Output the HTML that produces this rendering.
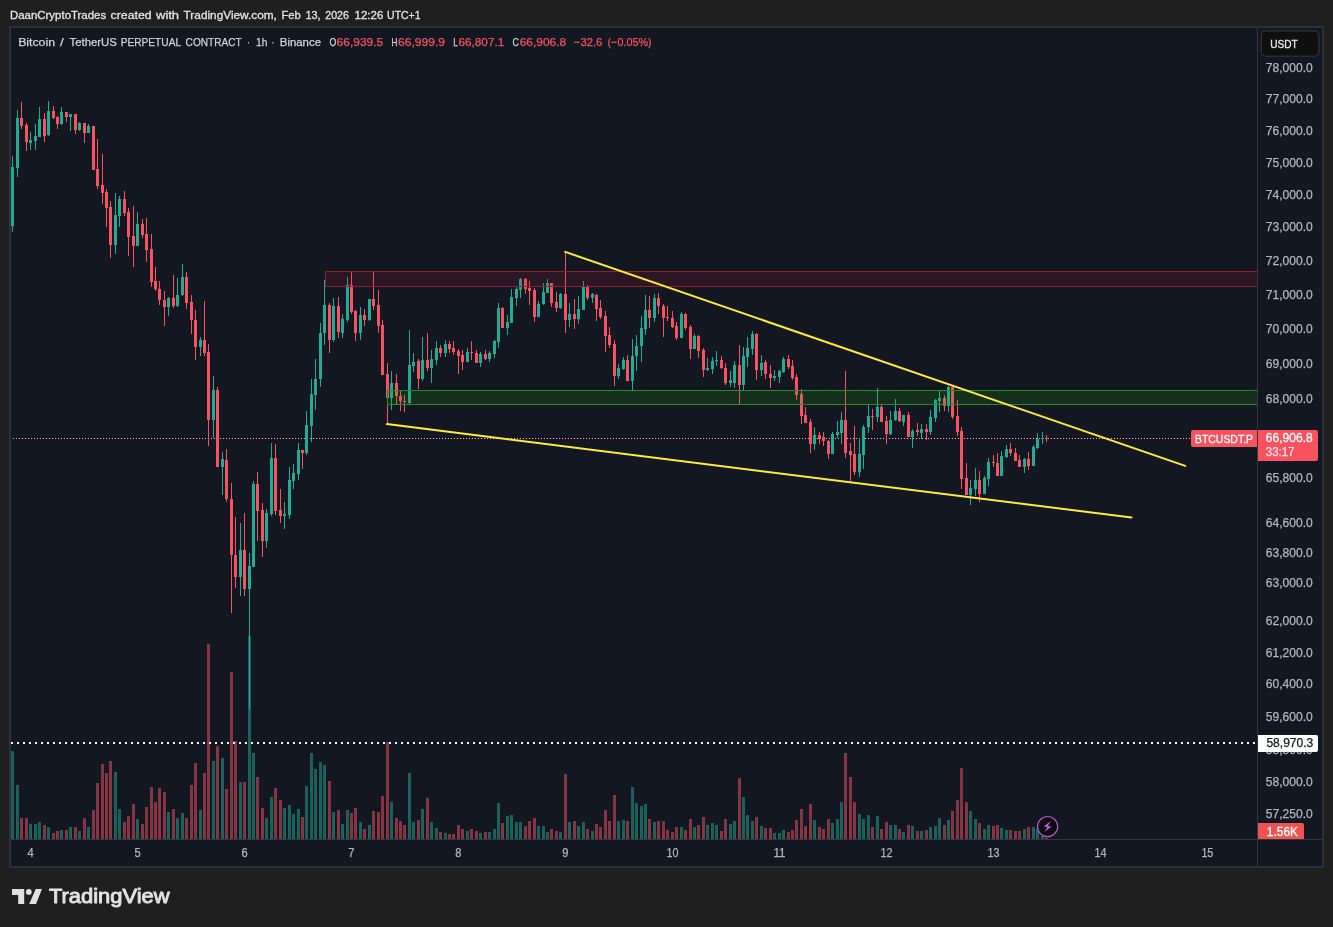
<!DOCTYPE html>
<html><head><meta charset="utf-8"><title>chart</title>
<style>
html,body{margin:0;padding:0;}
body{width:1333px;height:927px;background:#1f1f1f;overflow:hidden;position:relative;font-family:"Liberation Sans",sans-serif;font-size:12px;}
#frame{position:absolute;left:9px;top:26px;width:1311px;height:838px;border:2px solid #2e3037;background:#131722;}
#chart{position:absolute;left:0;top:0;width:1333px;height:927px;will-change:transform;font-family:"Liberation Sans",sans-serif;}
text{white-space:pre;}
</style></head><body>
<div id="frame"></div>
<svg id="chart" width="1333" height="927" viewBox="0 0 1333 927">
<defs><clipPath id="pane"><rect x="11" y="28" width="1246" height="811"/></clipPath></defs>
<g shape-rendering="crispEdges">
<rect x="11" y="751" width="3" height="88" fill="rgba(34,171,148,0.5)"/>
<rect x="16" y="785" width="3" height="54" fill="rgba(34,171,148,0.5)"/>
<rect x="20" y="818" width="3" height="21" fill="rgba(247,82,95,0.5)"/>
<rect x="25" y="818" width="3" height="21" fill="rgba(247,82,95,0.5)"/>
<rect x="29" y="824" width="3" height="15" fill="rgba(34,171,148,0.5)"/>
<rect x="34" y="824" width="3" height="15" fill="rgba(34,171,148,0.5)"/>
<rect x="38" y="822" width="3" height="17" fill="rgba(34,171,148,0.5)"/>
<rect x="43" y="825" width="3" height="14" fill="rgba(247,82,95,0.5)"/>
<rect x="47" y="827" width="3" height="12" fill="rgba(34,171,148,0.5)"/>
<rect x="52" y="833" width="3" height="6" fill="rgba(247,82,95,0.5)"/>
<rect x="56" y="831" width="3" height="8" fill="rgba(247,82,95,0.5)"/>
<rect x="60" y="830" width="3" height="9" fill="rgba(34,171,148,0.5)"/>
<rect x="65" y="830" width="3" height="9" fill="rgba(247,82,95,0.5)"/>
<rect x="69" y="827" width="3" height="12" fill="rgba(34,171,148,0.5)"/>
<rect x="74" y="827" width="3" height="12" fill="rgba(247,82,95,0.5)"/>
<rect x="78" y="831" width="3" height="8" fill="rgba(34,171,148,0.5)"/>
<rect x="83" y="818" width="3" height="21" fill="rgba(247,82,95,0.5)"/>
<rect x="87" y="827" width="3" height="12" fill="rgba(34,171,148,0.5)"/>
<rect x="92" y="810" width="3" height="29" fill="rgba(247,82,95,0.5)"/>
<rect x="96" y="783" width="3" height="56" fill="rgba(247,82,95,0.5)"/>
<rect x="101" y="764" width="3" height="75" fill="rgba(247,82,95,0.5)"/>
<rect x="105" y="773" width="3" height="66" fill="rgba(247,82,95,0.5)"/>
<rect x="109" y="761" width="3" height="78" fill="rgba(247,82,95,0.5)"/>
<rect x="114" y="772" width="3" height="67" fill="rgba(34,171,148,0.5)"/>
<rect x="118" y="809" width="3" height="30" fill="rgba(34,171,148,0.5)"/>
<rect x="123" y="822" width="3" height="17" fill="rgba(247,82,95,0.5)"/>
<rect x="127" y="816" width="3" height="23" fill="rgba(247,82,95,0.5)"/>
<rect x="132" y="804" width="3" height="35" fill="rgba(247,82,95,0.5)"/>
<rect x="136" y="819" width="3" height="20" fill="rgba(34,171,148,0.5)"/>
<rect x="141" y="824" width="3" height="15" fill="rgba(247,82,95,0.5)"/>
<rect x="145" y="807" width="3" height="32" fill="rgba(247,82,95,0.5)"/>
<rect x="150" y="787" width="3" height="52" fill="rgba(247,82,95,0.5)"/>
<rect x="154" y="802" width="3" height="37" fill="rgba(247,82,95,0.5)"/>
<rect x="158" y="788" width="3" height="51" fill="rgba(247,82,95,0.5)"/>
<rect x="163" y="792" width="3" height="47" fill="rgba(247,82,95,0.5)"/>
<rect x="167" y="812" width="3" height="27" fill="rgba(34,171,148,0.5)"/>
<rect x="172" y="809" width="3" height="30" fill="rgba(247,82,95,0.5)"/>
<rect x="176" y="818" width="3" height="21" fill="rgba(34,171,148,0.5)"/>
<rect x="181" y="813" width="3" height="26" fill="rgba(34,171,148,0.5)"/>
<rect x="185" y="818" width="3" height="21" fill="rgba(247,82,95,0.5)"/>
<rect x="190" y="785" width="3" height="54" fill="rgba(247,82,95,0.5)"/>
<rect x="194" y="763" width="3" height="76" fill="rgba(247,82,95,0.5)"/>
<rect x="199" y="810" width="3" height="29" fill="rgba(34,171,148,0.5)"/>
<rect x="203" y="773" width="3" height="66" fill="rgba(247,82,95,0.5)"/>
<rect x="207" y="644" width="3" height="195" fill="rgba(247,82,95,0.5)"/>
<rect x="212" y="761" width="3" height="78" fill="rgba(34,171,148,0.5)"/>
<rect x="216" y="746" width="3" height="93" fill="rgba(247,82,95,0.5)"/>
<rect x="221" y="758" width="3" height="81" fill="rgba(34,171,148,0.5)"/>
<rect x="225" y="789" width="3" height="50" fill="rgba(247,82,95,0.5)"/>
<rect x="230" y="672" width="3" height="167" fill="rgba(247,82,95,0.5)"/>
<rect x="234" y="741" width="3" height="98" fill="rgba(247,82,95,0.5)"/>
<rect x="239" y="782" width="3" height="57" fill="rgba(34,171,148,0.5)"/>
<rect x="243" y="782" width="3" height="57" fill="rgba(247,82,95,0.5)"/>
<rect x="248" y="636" width="3" height="203" fill="rgba(34,171,148,0.5)"/>
<rect x="252" y="753" width="3" height="86" fill="rgba(34,171,148,0.5)"/>
<rect x="256" y="777" width="3" height="62" fill="rgba(247,82,95,0.5)"/>
<rect x="261" y="808" width="3" height="31" fill="rgba(247,82,95,0.5)"/>
<rect x="265" y="818" width="3" height="21" fill="rgba(34,171,148,0.5)"/>
<rect x="270" y="797" width="3" height="42" fill="rgba(34,171,148,0.5)"/>
<rect x="274" y="788" width="3" height="51" fill="rgba(247,82,95,0.5)"/>
<rect x="279" y="800" width="3" height="39" fill="rgba(247,82,95,0.5)"/>
<rect x="283" y="808" width="3" height="31" fill="rgba(34,171,148,0.5)"/>
<rect x="288" y="805" width="3" height="34" fill="rgba(34,171,148,0.5)"/>
<rect x="292" y="814" width="3" height="25" fill="rgba(34,171,148,0.5)"/>
<rect x="297" y="809" width="3" height="30" fill="rgba(34,171,148,0.5)"/>
<rect x="301" y="817" width="3" height="22" fill="rgba(247,82,95,0.5)"/>
<rect x="305" y="786" width="3" height="53" fill="rgba(34,171,148,0.5)"/>
<rect x="310" y="753" width="3" height="86" fill="rgba(34,171,148,0.5)"/>
<rect x="314" y="769" width="3" height="70" fill="rgba(34,171,148,0.5)"/>
<rect x="319" y="762" width="3" height="77" fill="rgba(34,171,148,0.5)"/>
<rect x="323" y="765" width="3" height="74" fill="rgba(34,171,148,0.5)"/>
<rect x="328" y="781" width="3" height="58" fill="rgba(247,82,95,0.5)"/>
<rect x="332" y="812" width="3" height="27" fill="rgba(34,171,148,0.5)"/>
<rect x="337" y="810" width="3" height="29" fill="rgba(247,82,95,0.5)"/>
<rect x="341" y="824" width="3" height="15" fill="rgba(34,171,148,0.5)"/>
<rect x="346" y="810" width="3" height="29" fill="rgba(34,171,148,0.5)"/>
<rect x="350" y="813" width="3" height="26" fill="rgba(247,82,95,0.5)"/>
<rect x="354" y="808" width="3" height="31" fill="rgba(247,82,95,0.5)"/>
<rect x="359" y="822" width="3" height="17" fill="rgba(34,171,148,0.5)"/>
<rect x="363" y="829" width="3" height="10" fill="rgba(247,82,95,0.5)"/>
<rect x="368" y="825" width="3" height="14" fill="rgba(34,171,148,0.5)"/>
<rect x="372" y="811" width="3" height="28" fill="rgba(247,82,95,0.5)"/>
<rect x="377" y="812" width="3" height="27" fill="rgba(247,82,95,0.5)"/>
<rect x="381" y="796" width="3" height="43" fill="rgba(247,82,95,0.5)"/>
<rect x="386" y="742" width="3" height="97" fill="rgba(247,82,95,0.5)"/>
<rect x="390" y="802" width="3" height="37" fill="rgba(34,171,148,0.5)"/>
<rect x="395" y="818" width="3" height="21" fill="rgba(247,82,95,0.5)"/>
<rect x="399" y="821" width="3" height="18" fill="rgba(247,82,95,0.5)"/>
<rect x="403" y="825" width="3" height="14" fill="rgba(247,82,95,0.5)"/>
<rect x="408" y="773" width="3" height="66" fill="rgba(34,171,148,0.5)"/>
<rect x="412" y="822" width="3" height="17" fill="rgba(34,171,148,0.5)"/>
<rect x="417" y="820" width="3" height="19" fill="rgba(247,82,95,0.5)"/>
<rect x="421" y="809" width="3" height="30" fill="rgba(34,171,148,0.5)"/>
<rect x="426" y="798" width="3" height="41" fill="rgba(247,82,95,0.5)"/>
<rect x="430" y="822" width="3" height="17" fill="rgba(34,171,148,0.5)"/>
<rect x="435" y="828" width="3" height="11" fill="rgba(34,171,148,0.5)"/>
<rect x="439" y="832" width="3" height="7" fill="rgba(247,82,95,0.5)"/>
<rect x="444" y="833" width="3" height="6" fill="rgba(34,171,148,0.5)"/>
<rect x="448" y="834" width="3" height="5" fill="rgba(247,82,95,0.5)"/>
<rect x="452" y="834" width="3" height="5" fill="rgba(247,82,95,0.5)"/>
<rect x="457" y="825" width="3" height="14" fill="rgba(247,82,95,0.5)"/>
<rect x="461" y="829" width="3" height="10" fill="rgba(247,82,95,0.5)"/>
<rect x="466" y="831" width="3" height="8" fill="rgba(34,171,148,0.5)"/>
<rect x="470" y="829" width="3" height="10" fill="rgba(247,82,95,0.5)"/>
<rect x="475" y="831" width="3" height="8" fill="rgba(247,82,95,0.5)"/>
<rect x="479" y="833" width="3" height="6" fill="rgba(34,171,148,0.5)"/>
<rect x="484" y="832" width="3" height="7" fill="rgba(247,82,95,0.5)"/>
<rect x="488" y="832" width="3" height="7" fill="rgba(34,171,148,0.5)"/>
<rect x="493" y="829" width="3" height="10" fill="rgba(34,171,148,0.5)"/>
<rect x="497" y="803" width="3" height="36" fill="rgba(34,171,148,0.5)"/>
<rect x="501" y="823" width="3" height="16" fill="rgba(247,82,95,0.5)"/>
<rect x="506" y="816" width="3" height="23" fill="rgba(34,171,148,0.5)"/>
<rect x="510" y="815" width="3" height="24" fill="rgba(34,171,148,0.5)"/>
<rect x="515" y="822" width="3" height="17" fill="rgba(34,171,148,0.5)"/>
<rect x="519" y="822" width="3" height="17" fill="rgba(34,171,148,0.5)"/>
<rect x="524" y="826" width="3" height="13" fill="rgba(247,82,95,0.5)"/>
<rect x="528" y="821" width="3" height="18" fill="rgba(247,82,95,0.5)"/>
<rect x="533" y="818" width="3" height="21" fill="rgba(247,82,95,0.5)"/>
<rect x="537" y="826" width="3" height="13" fill="rgba(34,171,148,0.5)"/>
<rect x="542" y="826" width="3" height="13" fill="rgba(34,171,148,0.5)"/>
<rect x="546" y="832" width="3" height="7" fill="rgba(34,171,148,0.5)"/>
<rect x="550" y="829" width="3" height="10" fill="rgba(247,82,95,0.5)"/>
<rect x="555" y="831" width="3" height="8" fill="rgba(247,82,95,0.5)"/>
<rect x="559" y="832" width="3" height="7" fill="rgba(34,171,148,0.5)"/>
<rect x="564" y="774" width="3" height="65" fill="rgba(247,82,95,0.5)"/>
<rect x="568" y="822" width="3" height="17" fill="rgba(34,171,148,0.5)"/>
<rect x="573" y="821" width="3" height="18" fill="rgba(247,82,95,0.5)"/>
<rect x="577" y="826" width="3" height="13" fill="rgba(34,171,148,0.5)"/>
<rect x="582" y="822" width="3" height="17" fill="rgba(34,171,148,0.5)"/>
<rect x="586" y="829" width="3" height="10" fill="rgba(247,82,95,0.5)"/>
<rect x="591" y="831" width="3" height="8" fill="rgba(34,171,148,0.5)"/>
<rect x="595" y="824" width="3" height="15" fill="rgba(247,82,95,0.5)"/>
<rect x="599" y="827" width="3" height="12" fill="rgba(247,82,95,0.5)"/>
<rect x="604" y="810" width="3" height="29" fill="rgba(247,82,95,0.5)"/>
<rect x="608" y="821" width="3" height="18" fill="rgba(247,82,95,0.5)"/>
<rect x="613" y="795" width="3" height="44" fill="rgba(247,82,95,0.5)"/>
<rect x="617" y="821" width="3" height="18" fill="rgba(34,171,148,0.5)"/>
<rect x="622" y="820" width="3" height="19" fill="rgba(34,171,148,0.5)"/>
<rect x="626" y="821" width="3" height="18" fill="rgba(247,82,95,0.5)"/>
<rect x="631" y="787" width="3" height="52" fill="rgba(34,171,148,0.5)"/>
<rect x="635" y="803" width="3" height="36" fill="rgba(34,171,148,0.5)"/>
<rect x="640" y="806" width="3" height="33" fill="rgba(34,171,148,0.5)"/>
<rect x="644" y="804" width="3" height="35" fill="rgba(34,171,148,0.5)"/>
<rect x="648" y="819" width="3" height="20" fill="rgba(247,82,95,0.5)"/>
<rect x="653" y="822" width="3" height="17" fill="rgba(34,171,148,0.5)"/>
<rect x="657" y="821" width="3" height="18" fill="rgba(247,82,95,0.5)"/>
<rect x="662" y="821" width="3" height="18" fill="rgba(247,82,95,0.5)"/>
<rect x="666" y="830" width="3" height="9" fill="rgba(247,82,95,0.5)"/>
<rect x="671" y="832" width="3" height="7" fill="rgba(247,82,95,0.5)"/>
<rect x="675" y="827" width="3" height="12" fill="rgba(247,82,95,0.5)"/>
<rect x="680" y="827" width="3" height="12" fill="rgba(34,171,148,0.5)"/>
<rect x="684" y="830" width="3" height="9" fill="rgba(247,82,95,0.5)"/>
<rect x="689" y="819" width="3" height="20" fill="rgba(247,82,95,0.5)"/>
<rect x="693" y="827" width="3" height="12" fill="rgba(34,171,148,0.5)"/>
<rect x="697" y="825" width="3" height="14" fill="rgba(247,82,95,0.5)"/>
<rect x="702" y="817" width="3" height="22" fill="rgba(247,82,95,0.5)"/>
<rect x="706" y="825" width="3" height="14" fill="rgba(34,171,148,0.5)"/>
<rect x="711" y="823" width="3" height="16" fill="rgba(34,171,148,0.5)"/>
<rect x="715" y="825" width="3" height="14" fill="rgba(34,171,148,0.5)"/>
<rect x="720" y="831" width="3" height="8" fill="rgba(247,82,95,0.5)"/>
<rect x="724" y="819" width="3" height="20" fill="rgba(247,82,95,0.5)"/>
<rect x="729" y="824" width="3" height="15" fill="rgba(34,171,148,0.5)"/>
<rect x="733" y="821" width="3" height="18" fill="rgba(34,171,148,0.5)"/>
<rect x="738" y="778" width="3" height="61" fill="rgba(247,82,95,0.5)"/>
<rect x="742" y="797" width="3" height="42" fill="rgba(34,171,148,0.5)"/>
<rect x="746" y="815" width="3" height="24" fill="rgba(34,171,148,0.5)"/>
<rect x="751" y="821" width="3" height="18" fill="rgba(34,171,148,0.5)"/>
<rect x="755" y="817" width="3" height="22" fill="rgba(247,82,95,0.5)"/>
<rect x="760" y="826" width="3" height="13" fill="rgba(34,171,148,0.5)"/>
<rect x="764" y="828" width="3" height="11" fill="rgba(247,82,95,0.5)"/>
<rect x="769" y="828" width="3" height="11" fill="rgba(247,82,95,0.5)"/>
<rect x="773" y="833" width="3" height="6" fill="rgba(34,171,148,0.5)"/>
<rect x="778" y="833" width="3" height="6" fill="rgba(34,171,148,0.5)"/>
<rect x="782" y="830" width="3" height="9" fill="rgba(34,171,148,0.5)"/>
<rect x="787" y="832" width="3" height="7" fill="rgba(247,82,95,0.5)"/>
<rect x="791" y="830" width="3" height="9" fill="rgba(247,82,95,0.5)"/>
<rect x="795" y="820" width="3" height="19" fill="rgba(247,82,95,0.5)"/>
<rect x="800" y="809" width="3" height="30" fill="rgba(247,82,95,0.5)"/>
<rect x="804" y="826" width="3" height="13" fill="rgba(247,82,95,0.5)"/>
<rect x="809" y="804" width="3" height="35" fill="rgba(247,82,95,0.5)"/>
<rect x="813" y="820" width="3" height="19" fill="rgba(34,171,148,0.5)"/>
<rect x="818" y="827" width="3" height="12" fill="rgba(247,82,95,0.5)"/>
<rect x="822" y="829" width="3" height="10" fill="rgba(247,82,95,0.5)"/>
<rect x="827" y="819" width="3" height="20" fill="rgba(247,82,95,0.5)"/>
<rect x="831" y="823" width="3" height="16" fill="rgba(34,171,148,0.5)"/>
<rect x="836" y="819" width="3" height="20" fill="rgba(34,171,148,0.5)"/>
<rect x="840" y="802" width="3" height="37" fill="rgba(34,171,148,0.5)"/>
<rect x="844" y="753" width="3" height="86" fill="rgba(247,82,95,0.5)"/>
<rect x="849" y="777" width="3" height="62" fill="rgba(247,82,95,0.5)"/>
<rect x="853" y="802" width="3" height="37" fill="rgba(247,82,95,0.5)"/>
<rect x="858" y="814" width="3" height="25" fill="rgba(34,171,148,0.5)"/>
<rect x="862" y="819" width="3" height="20" fill="rgba(34,171,148,0.5)"/>
<rect x="867" y="815" width="3" height="24" fill="rgba(34,171,148,0.5)"/>
<rect x="871" y="827" width="3" height="12" fill="rgba(247,82,95,0.5)"/>
<rect x="876" y="816" width="3" height="23" fill="rgba(34,171,148,0.5)"/>
<rect x="880" y="829" width="3" height="10" fill="rgba(247,82,95,0.5)"/>
<rect x="885" y="822" width="3" height="17" fill="rgba(247,82,95,0.5)"/>
<rect x="889" y="825" width="3" height="14" fill="rgba(34,171,148,0.5)"/>
<rect x="894" y="825" width="3" height="14" fill="rgba(34,171,148,0.5)"/>
<rect x="898" y="829" width="3" height="10" fill="rgba(247,82,95,0.5)"/>
<rect x="902" y="832" width="3" height="7" fill="rgba(34,171,148,0.5)"/>
<rect x="907" y="825" width="3" height="14" fill="rgba(247,82,95,0.5)"/>
<rect x="911" y="826" width="3" height="13" fill="rgba(34,171,148,0.5)"/>
<rect x="916" y="831" width="3" height="8" fill="rgba(247,82,95,0.5)"/>
<rect x="920" y="831" width="3" height="8" fill="rgba(34,171,148,0.5)"/>
<rect x="925" y="830" width="3" height="9" fill="rgba(247,82,95,0.5)"/>
<rect x="929" y="827" width="3" height="12" fill="rgba(34,171,148,0.5)"/>
<rect x="934" y="826" width="3" height="13" fill="rgba(34,171,148,0.5)"/>
<rect x="938" y="818" width="3" height="21" fill="rgba(34,171,148,0.5)"/>
<rect x="943" y="825" width="3" height="14" fill="rgba(247,82,95,0.5)"/>
<rect x="947" y="820" width="3" height="19" fill="rgba(34,171,148,0.5)"/>
<rect x="951" y="811" width="3" height="28" fill="rgba(247,82,95,0.5)"/>
<rect x="956" y="800" width="3" height="39" fill="rgba(247,82,95,0.5)"/>
<rect x="960" y="768" width="3" height="71" fill="rgba(247,82,95,0.5)"/>
<rect x="965" y="802" width="3" height="37" fill="rgba(247,82,95,0.5)"/>
<rect x="969" y="811" width="3" height="28" fill="rgba(34,171,148,0.5)"/>
<rect x="974" y="819" width="3" height="20" fill="rgba(34,171,148,0.5)"/>
<rect x="978" y="823" width="3" height="16" fill="rgba(247,82,95,0.5)"/>
<rect x="983" y="829" width="3" height="10" fill="rgba(34,171,148,0.5)"/>
<rect x="987" y="825" width="3" height="14" fill="rgba(34,171,148,0.5)"/>
<rect x="992" y="826" width="3" height="13" fill="rgba(247,82,95,0.5)"/>
<rect x="996" y="825" width="3" height="14" fill="rgba(247,82,95,0.5)"/>
<rect x="1000" y="828" width="3" height="11" fill="rgba(34,171,148,0.5)"/>
<rect x="1005" y="830" width="3" height="9" fill="rgba(34,171,148,0.5)"/>
<rect x="1009" y="830" width="3" height="9" fill="rgba(247,82,95,0.5)"/>
<rect x="1014" y="831" width="3" height="8" fill="rgba(247,82,95,0.5)"/>
<rect x="1018" y="831" width="3" height="8" fill="rgba(247,82,95,0.5)"/>
<rect x="1023" y="829" width="3" height="10" fill="rgba(34,171,148,0.5)"/>
<rect x="1027" y="827" width="3" height="12" fill="rgba(247,82,95,0.5)"/>
<rect x="1032" y="827" width="3" height="12" fill="rgba(34,171,148,0.5)"/>
<rect x="1036" y="829" width="3" height="10" fill="rgba(34,171,148,0.5)"/>
<rect x="1041" y="836" width="3" height="3" fill="rgba(34,171,148,0.5)"/>
<rect x="1045" y="838" width="3" height="1" fill="rgba(247,82,95,0.5)"/>
</g>
<line x1="11" y1="438.5" x2="1191" y2="438.5" stroke="rgba(120,10,45,0.4)" stroke-width="1"/><line x1="13" y1="438.5" x2="1191" y2="438.5" stroke="#e6b6c2" stroke-width="1" stroke-dasharray="1 2"/>
<g shape-rendering="crispEdges">
<rect x="12" y="156" width="1" height="76" fill="#22ab94"/><rect x="11" y="167" width="3" height="59" fill="#22ab94"/>
<rect x="17" y="110" width="1" height="67" fill="#22ab94"/><rect x="16" y="118" width="3" height="50" fill="#22ab94"/>
<rect x="21" y="102" width="1" height="27" fill="#f7525f"/><rect x="20" y="118" width="3" height="8" fill="#f7525f"/>
<rect x="26" y="123" width="1" height="28" fill="#f7525f"/><rect x="25" y="125" width="3" height="17" fill="#f7525f"/>
<rect x="30" y="132" width="1" height="18" fill="#22ab94"/><rect x="29" y="140" width="3" height="3" fill="#22ab94"/>
<rect x="35" y="124" width="1" height="26" fill="#22ab94"/><rect x="34" y="136" width="3" height="5" fill="#22ab94"/>
<rect x="39" y="107" width="1" height="30" fill="#22ab94"/><rect x="38" y="119" width="3" height="18" fill="#22ab94"/>
<rect x="44" y="113" width="1" height="29" fill="#f7525f"/><rect x="43" y="119" width="3" height="17" fill="#f7525f"/>
<rect x="48" y="101" width="1" height="35" fill="#22ab94"/><rect x="47" y="111" width="3" height="24" fill="#22ab94"/>
<rect x="53" y="106" width="1" height="13" fill="#f7525f"/><rect x="52" y="111" width="3" height="7" fill="#f7525f"/>
<rect x="57" y="116" width="1" height="13" fill="#f7525f"/><rect x="56" y="117" width="3" height="7" fill="#f7525f"/>
<rect x="61" y="107" width="1" height="18" fill="#22ab94"/><rect x="60" y="112" width="3" height="12" fill="#22ab94"/>
<rect x="66" y="112" width="1" height="10" fill="#f7525f"/><rect x="65" y="112" width="3" height="5" fill="#f7525f"/>
<rect x="70" y="114" width="1" height="17" fill="#22ab94"/><rect x="69" y="114" width="3" height="3" fill="#22ab94"/>
<rect x="75" y="114" width="1" height="20" fill="#f7525f"/><rect x="74" y="114" width="3" height="16" fill="#f7525f"/>
<rect x="79" y="122" width="1" height="9" fill="#22ab94"/><rect x="78" y="123" width="3" height="7" fill="#22ab94"/>
<rect x="84" y="123" width="1" height="20" fill="#f7525f"/><rect x="83" y="123" width="3" height="10" fill="#f7525f"/>
<rect x="88" y="124" width="1" height="9" fill="#22ab94"/><rect x="87" y="126" width="3" height="7" fill="#22ab94"/>
<rect x="93" y="126" width="1" height="44" fill="#f7525f"/><rect x="92" y="126" width="3" height="44" fill="#f7525f"/>
<rect x="97" y="139" width="1" height="50" fill="#f7525f"/><rect x="96" y="169" width="3" height="17" fill="#f7525f"/>
<rect x="102" y="154" width="1" height="50" fill="#f7525f"/><rect x="101" y="185" width="3" height="8" fill="#f7525f"/>
<rect x="106" y="189" width="1" height="38" fill="#f7525f"/><rect x="105" y="192" width="3" height="16" fill="#f7525f"/>
<rect x="110" y="201" width="1" height="57" fill="#f7525f"/><rect x="109" y="207" width="3" height="38" fill="#f7525f"/>
<rect x="115" y="193" width="1" height="61" fill="#22ab94"/><rect x="114" y="215" width="3" height="30" fill="#22ab94"/>
<rect x="119" y="196" width="1" height="31" fill="#22ab94"/><rect x="118" y="199" width="3" height="17" fill="#22ab94"/>
<rect x="124" y="191" width="1" height="25" fill="#f7525f"/><rect x="123" y="199" width="3" height="14" fill="#f7525f"/>
<rect x="128" y="208" width="1" height="48" fill="#f7525f"/><rect x="127" y="212" width="3" height="25" fill="#f7525f"/>
<rect x="133" y="206" width="1" height="61" fill="#f7525f"/><rect x="132" y="236" width="3" height="10" fill="#f7525f"/>
<rect x="137" y="212" width="1" height="34" fill="#22ab94"/><rect x="136" y="224" width="3" height="22" fill="#22ab94"/>
<rect x="142" y="219" width="1" height="19" fill="#f7525f"/><rect x="141" y="224" width="3" height="11" fill="#f7525f"/>
<rect x="146" y="218" width="1" height="44" fill="#f7525f"/><rect x="145" y="234" width="3" height="16" fill="#f7525f"/>
<rect x="151" y="234" width="1" height="53" fill="#f7525f"/><rect x="150" y="249" width="3" height="33" fill="#f7525f"/>
<rect x="155" y="267" width="1" height="24" fill="#f7525f"/><rect x="154" y="281" width="3" height="8" fill="#f7525f"/>
<rect x="159" y="281" width="1" height="24" fill="#f7525f"/><rect x="158" y="289" width="3" height="11" fill="#f7525f"/>
<rect x="164" y="291" width="1" height="35" fill="#f7525f"/><rect x="163" y="300" width="3" height="7" fill="#f7525f"/>
<rect x="168" y="297" width="1" height="19" fill="#22ab94"/><rect x="167" y="298" width="3" height="9" fill="#22ab94"/>
<rect x="173" y="275" width="1" height="33" fill="#f7525f"/><rect x="172" y="298" width="3" height="8" fill="#f7525f"/>
<rect x="177" y="278" width="1" height="29" fill="#22ab94"/><rect x="176" y="295" width="3" height="11" fill="#22ab94"/>
<rect x="182" y="264" width="1" height="32" fill="#22ab94"/><rect x="181" y="277" width="3" height="18" fill="#22ab94"/>
<rect x="186" y="272" width="1" height="37" fill="#f7525f"/><rect x="185" y="277" width="3" height="26" fill="#f7525f"/>
<rect x="191" y="295" width="1" height="39" fill="#f7525f"/><rect x="190" y="302" width="3" height="18" fill="#f7525f"/>
<rect x="195" y="310" width="1" height="50" fill="#f7525f"/><rect x="194" y="320" width="3" height="27" fill="#f7525f"/>
<rect x="200" y="337" width="1" height="19" fill="#22ab94"/><rect x="199" y="340" width="3" height="7" fill="#22ab94"/>
<rect x="204" y="301" width="1" height="55" fill="#f7525f"/><rect x="203" y="340" width="3" height="13" fill="#f7525f"/>
<rect x="208" y="344" width="1" height="102" fill="#f7525f"/><rect x="207" y="352" width="3" height="68" fill="#f7525f"/>
<rect x="213" y="376" width="1" height="62" fill="#22ab94"/><rect x="212" y="390" width="3" height="30" fill="#22ab94"/>
<rect x="217" y="387" width="1" height="80" fill="#f7525f"/><rect x="216" y="390" width="3" height="77" fill="#f7525f"/>
<rect x="222" y="452" width="1" height="43" fill="#22ab94"/><rect x="221" y="459" width="3" height="8" fill="#22ab94"/>
<rect x="226" y="449" width="1" height="53" fill="#f7525f"/><rect x="225" y="460" width="3" height="39" fill="#f7525f"/>
<rect x="231" y="483" width="1" height="130" fill="#f7525f"/><rect x="230" y="499" width="3" height="56" fill="#f7525f"/>
<rect x="235" y="517" width="1" height="71" fill="#f7525f"/><rect x="234" y="555" width="3" height="22" fill="#f7525f"/>
<rect x="240" y="523" width="1" height="73" fill="#22ab94"/><rect x="239" y="550" width="3" height="27" fill="#22ab94"/>
<rect x="244" y="513" width="1" height="83" fill="#f7525f"/><rect x="243" y="550" width="3" height="39" fill="#f7525f"/>
<rect x="249" y="553" width="1" height="156" fill="#22ab94"/><rect x="248" y="566" width="3" height="23" fill="#22ab94"/>
<rect x="253" y="481" width="1" height="86" fill="#22ab94"/><rect x="252" y="484" width="3" height="83" fill="#22ab94"/>
<rect x="257" y="472" width="1" height="69" fill="#f7525f"/><rect x="256" y="484" width="3" height="27" fill="#f7525f"/>
<rect x="262" y="503" width="1" height="54" fill="#f7525f"/><rect x="261" y="510" width="3" height="31" fill="#f7525f"/>
<rect x="266" y="509" width="1" height="39" fill="#22ab94"/><rect x="265" y="513" width="3" height="28" fill="#22ab94"/>
<rect x="271" y="443" width="1" height="73" fill="#22ab94"/><rect x="270" y="458" width="3" height="56" fill="#22ab94"/>
<rect x="275" y="444" width="1" height="71" fill="#f7525f"/><rect x="274" y="458" width="3" height="53" fill="#f7525f"/>
<rect x="280" y="489" width="1" height="34" fill="#f7525f"/><rect x="279" y="510" width="3" height="6" fill="#f7525f"/>
<rect x="284" y="502" width="1" height="27" fill="#22ab94"/><rect x="283" y="514" width="3" height="2" fill="#22ab94"/>
<rect x="289" y="467" width="1" height="52" fill="#22ab94"/><rect x="288" y="480" width="3" height="35" fill="#22ab94"/>
<rect x="293" y="464" width="1" height="25" fill="#22ab94"/><rect x="292" y="473" width="3" height="8" fill="#22ab94"/>
<rect x="298" y="443" width="1" height="37" fill="#22ab94"/><rect x="297" y="450" width="3" height="24" fill="#22ab94"/>
<rect x="302" y="450" width="1" height="19" fill="#f7525f"/><rect x="301" y="450" width="3" height="3" fill="#f7525f"/>
<rect x="306" y="411" width="1" height="44" fill="#22ab94"/><rect x="305" y="425" width="3" height="28" fill="#22ab94"/>
<rect x="311" y="379" width="1" height="63" fill="#22ab94"/><rect x="310" y="394" width="3" height="32" fill="#22ab94"/>
<rect x="315" y="359" width="1" height="51" fill="#22ab94"/><rect x="314" y="379" width="3" height="16" fill="#22ab94"/>
<rect x="320" y="323" width="1" height="64" fill="#22ab94"/><rect x="319" y="333" width="3" height="46" fill="#22ab94"/>
<rect x="324" y="280" width="1" height="65" fill="#22ab94"/><rect x="323" y="305" width="3" height="28" fill="#22ab94"/>
<rect x="329" y="303" width="1" height="50" fill="#f7525f"/><rect x="328" y="305" width="3" height="35" fill="#f7525f"/>
<rect x="333" y="298" width="1" height="44" fill="#22ab94"/><rect x="332" y="306" width="3" height="34" fill="#22ab94"/>
<rect x="338" y="297" width="1" height="41" fill="#f7525f"/><rect x="337" y="306" width="3" height="26" fill="#f7525f"/>
<rect x="342" y="314" width="1" height="24" fill="#22ab94"/><rect x="341" y="319" width="3" height="14" fill="#22ab94"/>
<rect x="347" y="277" width="1" height="45" fill="#22ab94"/><rect x="346" y="285" width="3" height="35" fill="#22ab94"/>
<rect x="351" y="271" width="1" height="43" fill="#f7525f"/><rect x="350" y="285" width="3" height="27" fill="#f7525f"/>
<rect x="355" y="310" width="1" height="31" fill="#f7525f"/><rect x="354" y="311" width="3" height="22" fill="#f7525f"/>
<rect x="360" y="307" width="1" height="33" fill="#22ab94"/><rect x="359" y="315" width="3" height="18" fill="#22ab94"/>
<rect x="364" y="309" width="1" height="17" fill="#f7525f"/><rect x="363" y="315" width="3" height="5" fill="#f7525f"/>
<rect x="369" y="299" width="1" height="22" fill="#22ab94"/><rect x="368" y="299" width="3" height="21" fill="#22ab94"/>
<rect x="373" y="272" width="1" height="38" fill="#f7525f"/><rect x="372" y="299" width="3" height="7" fill="#f7525f"/>
<rect x="378" y="290" width="1" height="43" fill="#f7525f"/><rect x="377" y="305" width="3" height="21" fill="#f7525f"/>
<rect x="382" y="320" width="1" height="55" fill="#f7525f"/><rect x="381" y="325" width="3" height="50" fill="#f7525f"/>
<rect x="387" y="363" width="1" height="61" fill="#f7525f"/><rect x="386" y="374" width="3" height="24" fill="#f7525f"/>
<rect x="391" y="371" width="1" height="39" fill="#22ab94"/><rect x="390" y="383" width="3" height="15" fill="#22ab94"/>
<rect x="396" y="374" width="1" height="31" fill="#f7525f"/><rect x="395" y="383" width="3" height="13" fill="#f7525f"/>
<rect x="400" y="390" width="1" height="21" fill="#f7525f"/><rect x="399" y="396" width="3" height="5" fill="#f7525f"/>
<rect x="404" y="395" width="1" height="17" fill="#f7525f"/><rect x="403" y="401" width="3" height="1" fill="#f7525f"/>
<rect x="409" y="330" width="1" height="74" fill="#22ab94"/><rect x="408" y="365" width="3" height="38" fill="#22ab94"/>
<rect x="413" y="353" width="1" height="19" fill="#22ab94"/><rect x="412" y="362" width="3" height="4" fill="#22ab94"/>
<rect x="418" y="359" width="1" height="30" fill="#f7525f"/><rect x="417" y="361" width="3" height="18" fill="#f7525f"/>
<rect x="422" y="337" width="1" height="44" fill="#22ab94"/><rect x="421" y="360" width="3" height="19" fill="#22ab94"/>
<rect x="427" y="333" width="1" height="38" fill="#f7525f"/><rect x="426" y="360" width="3" height="8" fill="#f7525f"/>
<rect x="431" y="350" width="1" height="33" fill="#22ab94"/><rect x="430" y="359" width="3" height="9" fill="#22ab94"/>
<rect x="436" y="341" width="1" height="24" fill="#22ab94"/><rect x="435" y="348" width="3" height="12" fill="#22ab94"/>
<rect x="440" y="345" width="1" height="12" fill="#f7525f"/><rect x="439" y="348" width="3" height="5" fill="#f7525f"/>
<rect x="445" y="340" width="1" height="17" fill="#22ab94"/><rect x="444" y="344" width="3" height="9" fill="#22ab94"/>
<rect x="449" y="341" width="1" height="12" fill="#f7525f"/><rect x="448" y="344" width="3" height="5" fill="#f7525f"/>
<rect x="453" y="341" width="1" height="14" fill="#f7525f"/><rect x="452" y="348" width="3" height="4" fill="#f7525f"/>
<rect x="458" y="349" width="1" height="25" fill="#f7525f"/><rect x="457" y="351" width="3" height="5" fill="#f7525f"/>
<rect x="462" y="350" width="1" height="20" fill="#f7525f"/><rect x="461" y="355" width="3" height="7" fill="#f7525f"/>
<rect x="467" y="348" width="1" height="14" fill="#22ab94"/><rect x="466" y="352" width="3" height="10" fill="#22ab94"/>
<rect x="471" y="341" width="1" height="19" fill="#f7525f"/><rect x="470" y="352" width="3" height="1" fill="#f7525f"/>
<rect x="476" y="350" width="1" height="13" fill="#f7525f"/><rect x="475" y="353" width="3" height="10" fill="#f7525f"/>
<rect x="480" y="352" width="1" height="15" fill="#22ab94"/><rect x="479" y="354" width="3" height="9" fill="#22ab94"/>
<rect x="485" y="350" width="1" height="10" fill="#f7525f"/><rect x="484" y="354" width="3" height="5" fill="#f7525f"/>
<rect x="489" y="351" width="1" height="11" fill="#22ab94"/><rect x="488" y="353" width="3" height="6" fill="#22ab94"/>
<rect x="494" y="340" width="1" height="18" fill="#22ab94"/><rect x="493" y="341" width="3" height="13" fill="#22ab94"/>
<rect x="498" y="303" width="1" height="45" fill="#22ab94"/><rect x="497" y="308" width="3" height="34" fill="#22ab94"/>
<rect x="502" y="307" width="1" height="21" fill="#f7525f"/><rect x="501" y="308" width="3" height="20" fill="#f7525f"/>
<rect x="507" y="315" width="1" height="20" fill="#22ab94"/><rect x="506" y="322" width="3" height="6" fill="#22ab94"/>
<rect x="511" y="289" width="1" height="34" fill="#22ab94"/><rect x="510" y="297" width="3" height="26" fill="#22ab94"/>
<rect x="516" y="286" width="1" height="20" fill="#22ab94"/><rect x="515" y="289" width="3" height="9" fill="#22ab94"/>
<rect x="520" y="278" width="1" height="20" fill="#22ab94"/><rect x="519" y="279" width="3" height="11" fill="#22ab94"/>
<rect x="525" y="278" width="1" height="16" fill="#f7525f"/><rect x="524" y="279" width="3" height="10" fill="#f7525f"/>
<rect x="529" y="281" width="1" height="24" fill="#f7525f"/><rect x="528" y="288" width="3" height="3" fill="#f7525f"/>
<rect x="534" y="288" width="1" height="34" fill="#f7525f"/><rect x="533" y="290" width="3" height="27" fill="#f7525f"/>
<rect x="538" y="301" width="1" height="16" fill="#22ab94"/><rect x="537" y="304" width="3" height="13" fill="#22ab94"/>
<rect x="543" y="283" width="1" height="22" fill="#22ab94"/><rect x="542" y="292" width="3" height="12" fill="#22ab94"/>
<rect x="547" y="279" width="1" height="14" fill="#22ab94"/><rect x="546" y="283" width="3" height="10" fill="#22ab94"/>
<rect x="551" y="283" width="1" height="24" fill="#f7525f"/><rect x="550" y="283" width="3" height="20" fill="#f7525f"/>
<rect x="556" y="292" width="1" height="20" fill="#f7525f"/><rect x="555" y="302" width="3" height="6" fill="#f7525f"/>
<rect x="560" y="293" width="1" height="16" fill="#22ab94"/><rect x="559" y="294" width="3" height="14" fill="#22ab94"/>
<rect x="565" y="252" width="1" height="81" fill="#f7525f"/><rect x="564" y="294" width="3" height="26" fill="#f7525f"/>
<rect x="569" y="303" width="1" height="24" fill="#22ab94"/><rect x="568" y="314" width="3" height="6" fill="#22ab94"/>
<rect x="574" y="299" width="1" height="30" fill="#f7525f"/><rect x="573" y="314" width="3" height="5" fill="#f7525f"/>
<rect x="578" y="296" width="1" height="28" fill="#22ab94"/><rect x="577" y="309" width="3" height="10" fill="#22ab94"/>
<rect x="583" y="281" width="1" height="29" fill="#22ab94"/><rect x="582" y="286" width="3" height="24" fill="#22ab94"/>
<rect x="587" y="285" width="1" height="15" fill="#f7525f"/><rect x="586" y="286" width="3" height="12" fill="#f7525f"/>
<rect x="592" y="293" width="1" height="10" fill="#22ab94"/><rect x="591" y="294" width="3" height="4" fill="#22ab94"/>
<rect x="596" y="294" width="1" height="27" fill="#f7525f"/><rect x="595" y="295" width="3" height="14" fill="#f7525f"/>
<rect x="600" y="300" width="1" height="19" fill="#f7525f"/><rect x="599" y="308" width="3" height="9" fill="#f7525f"/>
<rect x="605" y="311" width="1" height="41" fill="#f7525f"/><rect x="604" y="316" width="3" height="20" fill="#f7525f"/>
<rect x="609" y="327" width="1" height="21" fill="#f7525f"/><rect x="608" y="335" width="3" height="10" fill="#f7525f"/>
<rect x="614" y="340" width="1" height="46" fill="#f7525f"/><rect x="613" y="344" width="3" height="32" fill="#f7525f"/>
<rect x="618" y="364" width="1" height="15" fill="#22ab94"/><rect x="617" y="368" width="3" height="8" fill="#22ab94"/>
<rect x="623" y="357" width="1" height="13" fill="#22ab94"/><rect x="622" y="360" width="3" height="9" fill="#22ab94"/>
<rect x="627" y="355" width="1" height="26" fill="#f7525f"/><rect x="626" y="360" width="3" height="21" fill="#f7525f"/>
<rect x="632" y="339" width="1" height="51" fill="#22ab94"/><rect x="631" y="356" width="3" height="25" fill="#22ab94"/>
<rect x="636" y="335" width="1" height="36" fill="#22ab94"/><rect x="635" y="346" width="3" height="10" fill="#22ab94"/>
<rect x="641" y="316" width="1" height="46" fill="#22ab94"/><rect x="640" y="328" width="3" height="18" fill="#22ab94"/>
<rect x="645" y="295" width="1" height="40" fill="#22ab94"/><rect x="644" y="310" width="3" height="19" fill="#22ab94"/>
<rect x="649" y="296" width="1" height="32" fill="#f7525f"/><rect x="648" y="310" width="3" height="8" fill="#f7525f"/>
<rect x="654" y="294" width="1" height="28" fill="#22ab94"/><rect x="653" y="298" width="3" height="20" fill="#22ab94"/>
<rect x="658" y="293" width="1" height="21" fill="#f7525f"/><rect x="657" y="298" width="3" height="8" fill="#f7525f"/>
<rect x="663" y="304" width="1" height="33" fill="#f7525f"/><rect x="662" y="306" width="3" height="12" fill="#f7525f"/>
<rect x="667" y="306" width="1" height="15" fill="#f7525f"/><rect x="666" y="317" width="3" height="1" fill="#f7525f"/>
<rect x="672" y="311" width="1" height="17" fill="#f7525f"/><rect x="671" y="318" width="3" height="9" fill="#f7525f"/>
<rect x="676" y="322" width="1" height="18" fill="#f7525f"/><rect x="675" y="326" width="3" height="12" fill="#f7525f"/>
<rect x="681" y="312" width="1" height="26" fill="#22ab94"/><rect x="680" y="314" width="3" height="24" fill="#22ab94"/>
<rect x="685" y="313" width="1" height="17" fill="#f7525f"/><rect x="684" y="314" width="3" height="14" fill="#f7525f"/>
<rect x="690" y="325" width="1" height="34" fill="#f7525f"/><rect x="689" y="327" width="3" height="22" fill="#f7525f"/>
<rect x="694" y="334" width="1" height="15" fill="#22ab94"/><rect x="693" y="336" width="3" height="13" fill="#22ab94"/>
<rect x="698" y="335" width="1" height="23" fill="#f7525f"/><rect x="697" y="336" width="3" height="15" fill="#f7525f"/>
<rect x="703" y="348" width="1" height="29" fill="#f7525f"/><rect x="702" y="350" width="3" height="20" fill="#f7525f"/>
<rect x="707" y="358" width="1" height="13" fill="#22ab94"/><rect x="706" y="368" width="3" height="2" fill="#22ab94"/>
<rect x="712" y="357" width="1" height="17" fill="#22ab94"/><rect x="711" y="361" width="3" height="8" fill="#22ab94"/>
<rect x="716" y="351" width="1" height="15" fill="#22ab94"/><rect x="715" y="360" width="3" height="1" fill="#22ab94"/>
<rect x="721" y="356" width="1" height="13" fill="#f7525f"/><rect x="720" y="360" width="3" height="8" fill="#f7525f"/>
<rect x="725" y="363" width="1" height="22" fill="#f7525f"/><rect x="724" y="368" width="3" height="15" fill="#f7525f"/>
<rect x="730" y="371" width="1" height="16" fill="#22ab94"/><rect x="729" y="380" width="3" height="3" fill="#22ab94"/>
<rect x="734" y="361" width="1" height="27" fill="#22ab94"/><rect x="733" y="365" width="3" height="18" fill="#22ab94"/>
<rect x="739" y="345" width="1" height="59" fill="#f7525f"/><rect x="738" y="365" width="3" height="20" fill="#f7525f"/>
<rect x="743" y="347" width="1" height="43" fill="#22ab94"/><rect x="742" y="356" width="3" height="29" fill="#22ab94"/>
<rect x="747" y="337" width="1" height="30" fill="#22ab94"/><rect x="746" y="348" width="3" height="9" fill="#22ab94"/>
<rect x="752" y="331" width="1" height="24" fill="#22ab94"/><rect x="751" y="334" width="3" height="15" fill="#22ab94"/>
<rect x="756" y="333" width="1" height="47" fill="#f7525f"/><rect x="755" y="334" width="3" height="36" fill="#f7525f"/>
<rect x="761" y="355" width="1" height="21" fill="#22ab94"/><rect x="760" y="363" width="3" height="7" fill="#22ab94"/>
<rect x="765" y="360" width="1" height="19" fill="#f7525f"/><rect x="764" y="362" width="3" height="12" fill="#f7525f"/>
<rect x="770" y="365" width="1" height="23" fill="#f7525f"/><rect x="769" y="374" width="3" height="4" fill="#f7525f"/>
<rect x="774" y="370" width="1" height="11" fill="#22ab94"/><rect x="773" y="376" width="3" height="2" fill="#22ab94"/>
<rect x="779" y="370" width="1" height="13" fill="#22ab94"/><rect x="778" y="371" width="3" height="6" fill="#22ab94"/>
<rect x="783" y="357" width="1" height="16" fill="#22ab94"/><rect x="782" y="359" width="3" height="13" fill="#22ab94"/>
<rect x="788" y="355" width="1" height="14" fill="#f7525f"/><rect x="787" y="359" width="3" height="8" fill="#f7525f"/>
<rect x="792" y="360" width="1" height="20" fill="#f7525f"/><rect x="791" y="366" width="3" height="12" fill="#f7525f"/>
<rect x="796" y="374" width="1" height="26" fill="#f7525f"/><rect x="795" y="377" width="3" height="18" fill="#f7525f"/>
<rect x="801" y="389" width="1" height="35" fill="#f7525f"/><rect x="800" y="394" width="3" height="22" fill="#f7525f"/>
<rect x="805" y="407" width="1" height="16" fill="#f7525f"/><rect x="804" y="415" width="3" height="8" fill="#f7525f"/>
<rect x="810" y="419" width="1" height="34" fill="#f7525f"/><rect x="809" y="422" width="3" height="22" fill="#f7525f"/>
<rect x="814" y="427" width="1" height="23" fill="#22ab94"/><rect x="813" y="435" width="3" height="9" fill="#22ab94"/>
<rect x="819" y="432" width="1" height="12" fill="#f7525f"/><rect x="818" y="435" width="3" height="4" fill="#f7525f"/>
<rect x="823" y="432" width="1" height="14" fill="#f7525f"/><rect x="822" y="437" width="3" height="4" fill="#f7525f"/>
<rect x="828" y="440" width="1" height="19" fill="#f7525f"/><rect x="827" y="441" width="3" height="13" fill="#f7525f"/>
<rect x="832" y="432" width="1" height="22" fill="#22ab94"/><rect x="831" y="434" width="3" height="20" fill="#22ab94"/>
<rect x="837" y="421" width="1" height="17" fill="#22ab94"/><rect x="836" y="432" width="3" height="3" fill="#22ab94"/>
<rect x="841" y="412" width="1" height="32" fill="#22ab94"/><rect x="840" y="420" width="3" height="13" fill="#22ab94"/>
<rect x="845" y="371" width="1" height="87" fill="#f7525f"/><rect x="844" y="420" width="3" height="33" fill="#f7525f"/>
<rect x="850" y="443" width="1" height="38" fill="#f7525f"/><rect x="849" y="451" width="3" height="4" fill="#f7525f"/>
<rect x="854" y="426" width="1" height="49" fill="#f7525f"/><rect x="853" y="454" width="3" height="18" fill="#f7525f"/>
<rect x="859" y="438" width="1" height="39" fill="#22ab94"/><rect x="858" y="454" width="3" height="18" fill="#22ab94"/>
<rect x="863" y="425" width="1" height="44" fill="#22ab94"/><rect x="862" y="427" width="3" height="28" fill="#22ab94"/>
<rect x="868" y="405" width="1" height="28" fill="#22ab94"/><rect x="867" y="416" width="3" height="11" fill="#22ab94"/>
<rect x="872" y="409" width="1" height="21" fill="#f7525f"/><rect x="871" y="416" width="3" height="1" fill="#f7525f"/>
<rect x="877" y="388" width="1" height="34" fill="#22ab94"/><rect x="876" y="407" width="3" height="10" fill="#22ab94"/>
<rect x="881" y="405" width="1" height="17" fill="#f7525f"/><rect x="880" y="407" width="3" height="15" fill="#f7525f"/>
<rect x="886" y="416" width="1" height="28" fill="#f7525f"/><rect x="885" y="421" width="3" height="13" fill="#f7525f"/>
<rect x="890" y="411" width="1" height="24" fill="#22ab94"/><rect x="889" y="420" width="3" height="14" fill="#22ab94"/>
<rect x="895" y="399" width="1" height="22" fill="#22ab94"/><rect x="894" y="411" width="3" height="9" fill="#22ab94"/>
<rect x="899" y="408" width="1" height="14" fill="#f7525f"/><rect x="898" y="411" width="3" height="10" fill="#f7525f"/>
<rect x="903" y="415" width="1" height="11" fill="#22ab94"/><rect x="902" y="415" width="3" height="7" fill="#22ab94"/>
<rect x="908" y="412" width="1" height="25" fill="#f7525f"/><rect x="907" y="415" width="3" height="22" fill="#f7525f"/>
<rect x="912" y="429" width="1" height="19" fill="#22ab94"/><rect x="911" y="431" width="3" height="6" fill="#22ab94"/>
<rect x="917" y="423" width="1" height="13" fill="#f7525f"/><rect x="916" y="430" width="3" height="2" fill="#f7525f"/>
<rect x="921" y="424" width="1" height="15" fill="#22ab94"/><rect x="920" y="429" width="3" height="4" fill="#22ab94"/>
<rect x="926" y="424" width="1" height="16" fill="#f7525f"/><rect x="925" y="429" width="3" height="3" fill="#f7525f"/>
<rect x="930" y="410" width="1" height="25" fill="#22ab94"/><rect x="929" y="417" width="3" height="15" fill="#22ab94"/>
<rect x="935" y="399" width="1" height="23" fill="#22ab94"/><rect x="934" y="400" width="3" height="18" fill="#22ab94"/>
<rect x="939" y="390" width="1" height="22" fill="#22ab94"/><rect x="938" y="398" width="3" height="3" fill="#22ab94"/>
<rect x="944" y="395" width="1" height="16" fill="#f7525f"/><rect x="943" y="398" width="3" height="8" fill="#f7525f"/>
<rect x="948" y="386" width="1" height="26" fill="#22ab94"/><rect x="947" y="387" width="3" height="19" fill="#22ab94"/>
<rect x="952" y="386" width="1" height="33" fill="#f7525f"/><rect x="951" y="387" width="3" height="30" fill="#f7525f"/>
<rect x="957" y="400" width="1" height="36" fill="#f7525f"/><rect x="956" y="416" width="3" height="16" fill="#f7525f"/>
<rect x="961" y="427" width="1" height="62" fill="#f7525f"/><rect x="960" y="431" width="3" height="48" fill="#f7525f"/>
<rect x="966" y="463" width="1" height="32" fill="#f7525f"/><rect x="965" y="478" width="3" height="17" fill="#f7525f"/>
<rect x="970" y="480" width="1" height="25" fill="#22ab94"/><rect x="969" y="488" width="3" height="7" fill="#22ab94"/>
<rect x="975" y="468" width="1" height="28" fill="#22ab94"/><rect x="974" y="480" width="3" height="9" fill="#22ab94"/>
<rect x="979" y="471" width="1" height="31" fill="#f7525f"/><rect x="978" y="480" width="3" height="14" fill="#f7525f"/>
<rect x="984" y="476" width="1" height="18" fill="#22ab94"/><rect x="983" y="478" width="3" height="16" fill="#22ab94"/>
<rect x="988" y="458" width="1" height="28" fill="#22ab94"/><rect x="987" y="462" width="3" height="17" fill="#22ab94"/>
<rect x="993" y="455" width="1" height="12" fill="#f7525f"/><rect x="992" y="462" width="3" height="1" fill="#f7525f"/>
<rect x="997" y="453" width="1" height="23" fill="#f7525f"/><rect x="996" y="463" width="3" height="13" fill="#f7525f"/>
<rect x="1001" y="451" width="1" height="25" fill="#22ab94"/><rect x="1000" y="456" width="3" height="20" fill="#22ab94"/>
<rect x="1006" y="445" width="1" height="13" fill="#22ab94"/><rect x="1005" y="449" width="3" height="8" fill="#22ab94"/>
<rect x="1010" y="443" width="1" height="13" fill="#f7525f"/><rect x="1009" y="449" width="3" height="4" fill="#f7525f"/>
<rect x="1015" y="448" width="1" height="13" fill="#f7525f"/><rect x="1014" y="453" width="3" height="8" fill="#f7525f"/>
<rect x="1019" y="455" width="1" height="12" fill="#f7525f"/><rect x="1018" y="460" width="3" height="7" fill="#f7525f"/>
<rect x="1024" y="458" width="1" height="15" fill="#22ab94"/><rect x="1023" y="459" width="3" height="8" fill="#22ab94"/>
<rect x="1028" y="452" width="1" height="18" fill="#f7525f"/><rect x="1027" y="459" width="3" height="7" fill="#f7525f"/>
<rect x="1033" y="445" width="1" height="21" fill="#22ab94"/><rect x="1032" y="447" width="3" height="19" fill="#22ab94"/>
<rect x="1037" y="433" width="1" height="16" fill="#22ab94"/><rect x="1036" y="439" width="3" height="9" fill="#22ab94"/>
<rect x="1042" y="432" width="1" height="12" fill="#22ab94"/><rect x="1041" y="438" width="3" height="1" fill="#22ab94"/>
<rect x="1046" y="435" width="1" height="7" fill="#f7525f"/><rect x="1045" y="438" width="3" height="1" fill="#f7525f"/>
</g>
<g clip-path="url(#pane)"><rect x="325.5" y="271.5" width="960" height="15" fill="rgba(200,20,50,0.14)" stroke="#8c2231" stroke-width="1"/>
<rect x="387.5" y="390.5" width="900" height="14" fill="rgba(30,190,0,0.15)" stroke="#208c30" stroke-width="1"/></g>
<line x1="565.2" y1="251.9" x2="1185.2" y2="465.9" stroke="#ffeb3b" stroke-width="2" stroke-linecap="round"/>
<line x1="386.9" y1="424.1" x2="1131.5" y2="517.5" stroke="#ffeb3b" stroke-width="2" stroke-linecap="round"/>
<line x1="11" y1="743" x2="1257" y2="743" stroke="#ffffff" stroke-width="2" stroke-dasharray="2 4"/>
<circle cx="1047.6" cy="826.6" r="10.1" fill="#0c0d10" stroke="#b653cc" stroke-width="1.2"/>
<path d="M1050.9 820.9 L1043.6 826.6 L1047.4 827 L1044.3 832 L1051.5 826.4 L1047.8 826 Z" fill="#c45cdb"/>
<!-- axes separators -->
<rect x="1257" y="28" width="1" height="838" fill="#33363f"/>
<rect x="11" y="839" width="1311" height="1" fill="#33363f"/>
<text x="1265.8" y="72.2" font-size="12" fill="#b2b5be" textLength="46.9" lengthAdjust="spacingAndGlyphs" stroke="#b2b5be" stroke-width="0.25">78,000.0</text>
<text x="1265.8" y="103.2" font-size="12" fill="#b2b5be" textLength="46.9" lengthAdjust="spacingAndGlyphs" stroke="#b2b5be" stroke-width="0.25">77,000.0</text>
<text x="1265.8" y="134.9" font-size="12" fill="#b2b5be" textLength="46.9" lengthAdjust="spacingAndGlyphs" stroke="#b2b5be" stroke-width="0.25">76,000.0</text>
<text x="1265.8" y="166.7" font-size="12" fill="#b2b5be" textLength="46.9" lengthAdjust="spacingAndGlyphs" stroke="#b2b5be" stroke-width="0.25">75,000.0</text>
<text x="1265.8" y="198.6" font-size="12" fill="#b2b5be" textLength="46.9" lengthAdjust="spacingAndGlyphs" stroke="#b2b5be" stroke-width="0.25">74,000.0</text>
<text x="1265.8" y="231.4" font-size="12" fill="#b2b5be" textLength="46.9" lengthAdjust="spacingAndGlyphs" stroke="#b2b5be" stroke-width="0.25">73,000.0</text>
<text x="1265.8" y="264.8" font-size="12" fill="#b2b5be" textLength="46.9" lengthAdjust="spacingAndGlyphs" stroke="#b2b5be" stroke-width="0.25">72,000.0</text>
<text x="1265.8" y="298.5" font-size="12" fill="#b2b5be" textLength="46.9" lengthAdjust="spacingAndGlyphs" stroke="#b2b5be" stroke-width="0.25">71,000.0</text>
<text x="1265.8" y="332.8" font-size="12" fill="#b2b5be" textLength="46.9" lengthAdjust="spacingAndGlyphs" stroke="#b2b5be" stroke-width="0.25">70,000.0</text>
<text x="1265.8" y="367.7" font-size="12" fill="#b2b5be" textLength="46.9" lengthAdjust="spacingAndGlyphs" stroke="#b2b5be" stroke-width="0.25">69,000.0</text>
<text x="1265.8" y="402.9" font-size="12" fill="#b2b5be" textLength="46.9" lengthAdjust="spacingAndGlyphs" stroke="#b2b5be" stroke-width="0.25">68,000.0</text>
<text x="1265.8" y="482.1" font-size="12" fill="#b2b5be" textLength="46.9" lengthAdjust="spacingAndGlyphs" stroke="#b2b5be" stroke-width="0.25">65,800.0</text>
<text x="1265.8" y="526.6" font-size="12" fill="#b2b5be" textLength="46.9" lengthAdjust="spacingAndGlyphs" stroke="#b2b5be" stroke-width="0.25">64,600.0</text>
<text x="1265.8" y="556.8" font-size="12" fill="#b2b5be" textLength="46.9" lengthAdjust="spacingAndGlyphs" stroke="#b2b5be" stroke-width="0.25">63,800.0</text>
<text x="1265.8" y="586.8" font-size="12" fill="#b2b5be" textLength="46.9" lengthAdjust="spacingAndGlyphs" stroke="#b2b5be" stroke-width="0.25">63,000.0</text>
<text x="1265.8" y="625.2" font-size="12" fill="#b2b5be" textLength="46.9" lengthAdjust="spacingAndGlyphs" stroke="#b2b5be" stroke-width="0.25">62,000.0</text>
<text x="1265.8" y="656.9" font-size="12" fill="#b2b5be" textLength="46.9" lengthAdjust="spacingAndGlyphs" stroke="#b2b5be" stroke-width="0.25">61,200.0</text>
<text x="1265.8" y="688.4" font-size="12" fill="#b2b5be" textLength="46.9" lengthAdjust="spacingAndGlyphs" stroke="#b2b5be" stroke-width="0.25">60,400.0</text>
<text x="1265.8" y="721" font-size="12" fill="#b2b5be" textLength="46.9" lengthAdjust="spacingAndGlyphs" stroke="#b2b5be" stroke-width="0.25">59,600.0</text>
<text x="1265.8" y="753.5" font-size="12" fill="#b2b5be" textLength="46.9" lengthAdjust="spacingAndGlyphs" stroke="#b2b5be" stroke-width="0.25">58,800.0</text>
<text x="1265.8" y="785.9" font-size="12" fill="#b2b5be" textLength="46.9" lengthAdjust="spacingAndGlyphs" stroke="#b2b5be" stroke-width="0.25">58,000.0</text>
<text x="1265.8" y="817.8" font-size="12" fill="#b2b5be" textLength="46.9" lengthAdjust="spacingAndGlyphs" stroke="#b2b5be" stroke-width="0.25">57,250.0</text>
<!-- USDT button -->
<rect x="1261.3" y="31" width="57.6" height="25.2" rx="4" fill="#0f0f0f" stroke="#363a45"/>
<text x="1270.2" y="48.3" font-size="11.5" fill="#e8e8e8" textLength="27.5" lengthAdjust="spacingAndGlyphs" stroke="#e8e8e8" stroke-width="0.35">USDT</text>
<!-- symbol tag -->
<path d="M1193 430 H1257 V447 H1193 a2 2 0 0 1 -2 -2 V432 a2 2 0 0 1 2 -2 Z" fill="#f7525f"/>
<text x="1195" y="443.2" font-size="11.5" fill="#ffffff" textLength="58" lengthAdjust="spacingAndGlyphs" stroke="#fff" stroke-width="0.3">BTCUSDT.P</text>
<path d="M1258 430 H1316 a2 2 0 0 1 2 2 V459 a2 2 0 0 1 -2 2 H1258 Z" fill="#f7525f"/>
<text x="1265.8" y="442.2" font-size="12" fill="#ffffff" textLength="46.9" lengthAdjust="spacingAndGlyphs" stroke="#fff" stroke-width="0.3">66,906.8</text>
<text x="1265.8" y="456" font-size="12" fill="#ffffff" textLength="28.5" lengthAdjust="spacingAndGlyphs" opacity="0.85" stroke="#ffffff" stroke-width="0.25">33:17</text>
<!-- level tag -->
<path d="M1258 735 H1316 a2 2 0 0 1 2 2 V750 a2 2 0 0 1 -2 2 H1258 Z" fill="#ffffff"/>
<text x="1266.4" y="747.4" font-size="12" fill="#131722" textLength="46.9" lengthAdjust="spacingAndGlyphs" stroke="#131722" stroke-width="0.25">58,970.3</text>
<!-- vol tag -->
<path d="M1258 823 H1302 a2 2 0 0 1 2 2 V839 H1258 Z" fill="#ef5350"/>
<text x="1266.8" y="836.2" font-size="12" fill="#ffffff" textLength="31.2" lengthAdjust="spacingAndGlyphs" stroke="#fff" stroke-width="0.3">1.56K</text>
<text x="9.95" y="18.7" font-size="11.6" fill="#e4e4e4" textLength="96.25" lengthAdjust="spacingAndGlyphs" stroke="#e4e4e4" stroke-width="0.3">DaanCryptoTrades</text>
<text x="110.6" y="18.7" font-size="11.6" fill="#e4e4e4" textLength="41" lengthAdjust="spacingAndGlyphs" stroke="#e4e4e4" stroke-width="0.3">created</text>
<text x="156" y="18.7" font-size="11.6" fill="#e4e4e4" textLength="23.1" lengthAdjust="spacingAndGlyphs" stroke="#e4e4e4" stroke-width="0.3">with</text>
<text x="183.6" y="18.7" font-size="11.6" fill="#e4e4e4" textLength="93.3" lengthAdjust="spacingAndGlyphs" stroke="#e4e4e4" stroke-width="0.3">TradingView.com,</text>
<text x="281.5" y="18.7" font-size="11.6" fill="#e4e4e4" textLength="19.3" lengthAdjust="spacingAndGlyphs" stroke="#e4e4e4" stroke-width="0.3">Feb</text>
<text x="305.4" y="18.7" font-size="11.6" fill="#e4e4e4" textLength="15.2" lengthAdjust="spacingAndGlyphs" stroke="#e4e4e4" stroke-width="0.3">13,</text>
<text x="325.2" y="18.7" font-size="11.6" fill="#e4e4e4" textLength="23.8" lengthAdjust="spacingAndGlyphs" stroke="#e4e4e4" stroke-width="0.3">2026</text>
<text x="354.5" y="18.7" font-size="11.6" fill="#e4e4e4" textLength="28.8" lengthAdjust="spacingAndGlyphs" stroke="#e4e4e4" stroke-width="0.3">12:26</text>
<text x="387.1" y="18.7" font-size="11.6" fill="#e4e4e4" textLength="33.4" lengthAdjust="spacingAndGlyphs" stroke="#e4e4e4" stroke-width="0.3">UTC+1</text>
<text x="18.2" y="45.9" font-size="11.8" fill="#d1d4dc" textLength="36.8" lengthAdjust="spacingAndGlyphs" stroke="#d1d4dc" stroke-width="0.25">Bitcoin</text>
<text x="60" y="45.9" font-size="11.8" fill="#d1d4dc" textLength="3.7" lengthAdjust="spacingAndGlyphs" stroke="#d1d4dc" stroke-width="0.25">/</text>
<text x="69.5" y="45.9" font-size="11.8" fill="#d1d4dc" textLength="47.4" lengthAdjust="spacingAndGlyphs" stroke="#d1d4dc" stroke-width="0.25">TetherUS</text>
<text x="120.7" y="45.9" font-size="11.8" fill="#d1d4dc" textLength="60.4" lengthAdjust="spacingAndGlyphs" stroke="#d1d4dc" stroke-width="0.25">PERPETUAL</text>
<text x="185.6" y="45.9" font-size="11.8" fill="#d1d4dc" textLength="56.2" lengthAdjust="spacingAndGlyphs" stroke="#d1d4dc" stroke-width="0.25">CONTRACT</text>
<text x="247.3" y="45.9" font-size="11.8" fill="#d1d4dc" textLength="2.7" lengthAdjust="spacingAndGlyphs" stroke="#d1d4dc" stroke-width="0.25">·</text>
<text x="256" y="45.9" font-size="11.8" fill="#d1d4dc" textLength="11.3" lengthAdjust="spacingAndGlyphs" stroke="#d1d4dc" stroke-width="0.25">1h</text>
<text x="271.5" y="45.9" font-size="11.8" fill="#d1d4dc" textLength="2.7" lengthAdjust="spacingAndGlyphs" stroke="#d1d4dc" stroke-width="0.25">·</text>
<text x="279.8" y="45.9" font-size="11.8" fill="#d1d4dc" textLength="41.2" lengthAdjust="spacingAndGlyphs" stroke="#d1d4dc" stroke-width="0.25">Binance</text>
<text x="329.4" y="45.9" font-size="11.8" fill="#d1d4dc" textLength="6.8" lengthAdjust="spacingAndGlyphs" stroke="#d1d4dc" stroke-width="0.25">O</text>
<text x="336.6" y="45.9" font-size="11.8" fill="#f7525f" textLength="46.7" lengthAdjust="spacingAndGlyphs" stroke="#f7525f" stroke-width="0.25">66,939.5</text>
<text x="391.4" y="45.9" font-size="11.8" fill="#d1d4dc" textLength="5.9" lengthAdjust="spacingAndGlyphs" stroke="#d1d4dc" stroke-width="0.25">H</text>
<text x="398" y="45.9" font-size="11.8" fill="#f7525f" textLength="47" lengthAdjust="spacingAndGlyphs" stroke="#f7525f" stroke-width="0.25">66,999.9</text>
<text x="453.2" y="45.9" font-size="11.8" fill="#d1d4dc" textLength="4.6" lengthAdjust="spacingAndGlyphs" stroke="#d1d4dc" stroke-width="0.25">L</text>
<text x="458.5" y="45.9" font-size="11.8" fill="#f7525f" textLength="45.7" lengthAdjust="spacingAndGlyphs" stroke="#f7525f" stroke-width="0.25">66,807.1</text>
<text x="512.6" y="45.9" font-size="11.8" fill="#d1d4dc" textLength="6.4" lengthAdjust="spacingAndGlyphs" stroke="#d1d4dc" stroke-width="0.25">C</text>
<text x="519.7" y="45.9" font-size="11.8" fill="#f7525f" textLength="46.5" lengthAdjust="spacingAndGlyphs" stroke="#f7525f" stroke-width="0.25">66,906.8</text>
<text x="573.8" y="45.9" font-size="11.8" fill="#f7525f" textLength="28.6" lengthAdjust="spacingAndGlyphs" stroke="#f7525f" stroke-width="0.25">−32.6</text>
<text x="607.5" y="45.9" font-size="11.8" fill="#f7525f" textLength="44.1" lengthAdjust="spacingAndGlyphs" stroke="#f7525f" stroke-width="0.25">(−0.05%)</text>
<text x="27.4" y="857.4" font-size="12" fill="#b2b5be" textLength="6.2" lengthAdjust="spacingAndGlyphs" stroke="#b2b5be" stroke-width="0.25">4</text>
<text x="134.39" y="857.4" font-size="12" fill="#b2b5be" textLength="6.2" lengthAdjust="spacingAndGlyphs" stroke="#b2b5be" stroke-width="0.25">5</text>
<text x="241.38" y="857.4" font-size="12" fill="#b2b5be" textLength="6.2" lengthAdjust="spacingAndGlyphs" stroke="#b2b5be" stroke-width="0.25">6</text>
<text x="348.37" y="857.4" font-size="12" fill="#b2b5be" textLength="6.2" lengthAdjust="spacingAndGlyphs" stroke="#b2b5be" stroke-width="0.25">7</text>
<text x="455.36" y="857.4" font-size="12" fill="#b2b5be" textLength="6.2" lengthAdjust="spacingAndGlyphs" stroke="#b2b5be" stroke-width="0.25">8</text>
<text x="562.35" y="857.4" font-size="12" fill="#b2b5be" textLength="6.2" lengthAdjust="spacingAndGlyphs" stroke="#b2b5be" stroke-width="0.25">9</text>
<text x="666.44" y="857.4" font-size="12" fill="#b2b5be" textLength="12" lengthAdjust="spacingAndGlyphs" stroke="#b2b5be" stroke-width="0.25">10</text>
<text x="773.43" y="857.4" font-size="12" fill="#b2b5be" textLength="12" lengthAdjust="spacingAndGlyphs" stroke="#b2b5be" stroke-width="0.25">11</text>
<text x="880.42" y="857.4" font-size="12" fill="#b2b5be" textLength="12" lengthAdjust="spacingAndGlyphs" stroke="#b2b5be" stroke-width="0.25">12</text>
<text x="987.41" y="857.4" font-size="12" fill="#b2b5be" textLength="12" lengthAdjust="spacingAndGlyphs" stroke="#b2b5be" stroke-width="0.25">13</text>
<text x="1094.4" y="857.4" font-size="12" fill="#b2b5be" textLength="12" lengthAdjust="spacingAndGlyphs" stroke="#b2b5be" stroke-width="0.25">14</text>
<text x="1201.39" y="857.4" font-size="12" fill="#b2b5be" textLength="12" lengthAdjust="spacingAndGlyphs" stroke="#b2b5be" stroke-width="0.25">15</text>
<!-- logo -->
<g fill="#e0e0e0">
<path d="M12 889 H24.2 V904 H18.2 V895 H12 Z"/>
<circle cx="28.8" cy="891.9" r="2.9"/>
<path d="M35.7 889 H42 L36 904 H29.2 Z"/>
</g>
<text x="49" y="903.4" font-size="19.6" fill="#e2e2e2" stroke="#e2e2e2" stroke-width="0.9" stroke-linejoin="round" textLength="120.6" lengthAdjust="spacingAndGlyphs">TradingView</text>
</svg>
</body></html>
